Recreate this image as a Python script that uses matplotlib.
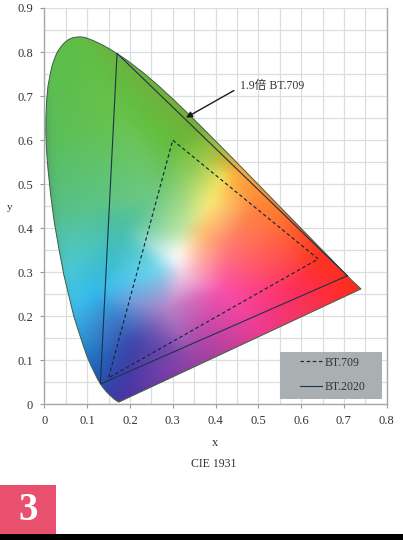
import numpy as np
import matplotlib
matplotlib.use('Agg')
import matplotlib.pyplot as plt
import matplotlib.tri as mtri
from matplotlib.patches import Polygon, Rectangle

plt.rcParams['font.family'] = ['Liberation Serif', 'Noto Sans CJK SC', 'DejaVu Sans']

# spectrum locus
locus_x = [.1741, .1644, .1566, .1510, .1440, .1355, .1241, .1096, .1000, .0913, .0800, .0687, .0570, .0454, .0340,
           .0235, .0150, .0082, .0050, .0035, .0039, .0055, .0085, .0139, .0185, .0250, .0310, .0389, .0470, .0560,
           .0650, .0743, .0830, .0940, .1142, .1340, .1547, .1929, .2296, .2658, .3016, .3373, .3731, .4087, .4441,
           .4788, .5125, .5448, .5752, .6029, .6270, .6658, .6915, .7079, .7190, .7290, .7400]
locus_y = [.0050, .0109, .0177, .0227, .0297, .0399, .0578, .0868, .1080, .1327, .1660, .2007, .2480, .2950, .3540,
           .4127, .4750, .5384, .5800, .6200, .6548, .6900, .7220, .7502, .7700, .7880, .8010, .8120, .8210, .8280,
           .8320, .8338, .8345, .8335, .8262, .8170, .8059, .7816, .7543, .7243, .6923, .6589, .6245, .5896, .5547,
           .5202, .4866, .4544, .4242, .3965, .3725, .3340, .3083, .2920, .2809, .2720, .2620]
bt709_x = [.64, .30, .15]
bt709_y = [.33, .60, .06]
bt2020_x = [.708, .170, .131]
bt2020_y = [.292, .797, .046]

# colours read at points inside the horseshoe
col_x = [0, .8, 0, .8, .08, .01, .30, .18, .26, .02, .10, .184, .05, .07, .122, .207, .12, .14, .18, .34, .496, .59,
         .74, .68, .636, .55, .496, .426, .387, .309, .364, .434, .418, .263, .324, .324, .371, .287, .254, .45, .37,
         .33]
col_y = [0, 0, .9, .9, .82, .60, .585, .65, .47, .45, .45, .396, .30, .22, .253, .14, .08, .04, .005, .107, .168, .26,
         .26, .27, .32, .43, .449, .525, .457, .332, .32, .358, .26, .305, .396, .29, .389, .214, .169, .52, .56, .50]
col_rgb = [(60, 60, 170), (255, 40, 30), (95, 190, 70), (255, 60, 30), (95, 190, 70), (90, 190, 90), (100, 190, 60),
           (105, 195, 75), (110, 200, 130), (85, 190, 130), (90, 195, 135), (70, 190, 170), (75, 200, 215),
           (60, 190, 235), (50, 185, 235), (60, 70, 170), (30, 100, 185), (45, 75, 170), (70, 50, 165),
           (150, 70, 170), (235, 60, 150), (255, 45, 90), (250, 45, 30), (255, 45, 45), (255, 50, 35), (255, 120, 45),
           (255, 130, 60), (240, 225, 85), (250, 235, 120), (255, 255, 255), (255, 170, 170), (255, 120, 110),
           (250, 80, 170), (110, 215, 240), (190, 230, 160), (240, 200, 225), (255, 190, 110), (180, 130, 200),
           (110, 90, 180), (255, 170, 60), (150, 200, 70), (150, 210, 110)]

fig = plt.figure(figsize=(4.03, 5.40), dpi=100)
ax = fig.add_axes([44.3 / 403, 1 - 404.3 / 540, 342.4 / 403, 396.3 / 540])

# gradient fill: linear between the colour samples, then a soft blur
gx, gy = np.meshgrid(np.linspace(0, .8, 400), np.linspace(0, .9, 450))
tri = mtri.Triangulation(col_x, col_y)
rgb = np.array(col_rgb, dtype=float) / 255
img = np.stack([mtri.LinearTriInterpolator(tri, rgb[:, i])(gx, gy).filled(1) for i in range(3)], axis=-1)
kern = np.exp(-.5 * (np.arange(-15, 16) / 5) ** 2)
kern = kern / kern.sum()
pad = np.pad(img, ((15, 15), (15, 15), (0, 0)), mode='edge')
pad = np.apply_along_axis(lambda v: np.convolve(v, kern, mode='same'), 0, pad)
pad = np.apply_along_axis(lambda v: np.convolve(v, kern, mode='same'), 1, pad)
img = np.clip(pad[15:-15, 15:-15], 0, 1)

im = ax.imshow(img, origin='lower', extent=(0, .8, 0, .9), aspect='auto', zorder=2, interpolation='bilinear')
shape = Polygon(np.column_stack([locus_x, locus_y]), closed=True, fc='none', ec='#3d5f45', lw=0.7, zorder=3,
                transform=ax.transData)
ax.add_patch(shape)
im.set_clip_path(shape)

ax.plot(bt709_x + bt709_x[:1], bt709_y + bt709_y[:1], color='#14283a', lw=0.85, ls=(0, (3, 2.2)), zorder=4, label='BT.709')
ax.plot(bt2020_x + bt2020_x[:1], bt2020_y + bt2020_y[:1], color='#1c3448', lw=0.8, zorder=4, label='BT.2020')

ax.set_xlim(0, .8)
ax.set_ylim(0, .9)
ax.set_xticks(np.arange(0, .81, .1))
ax.set_yticks(np.arange(0, .91, .1))
ax.set_xticks(np.arange(0, .81, .05), minor=True)
ax.set_yticks(np.arange(0, .91, .05), minor=True)
ax.set_xticklabels(['0', '0.1', '0.2', '0.3', '0.4', '0.5', '0.6', '0.7', '0.8'])
ax.set_yticklabels(['0', '0.1', '0.2', '0.3', '0.4', '0.5', '0.6', '0.7', '0.8', '0.9'])
ax.grid(which='both', color='#dcdfe0', lw=0.9, zorder=0)
ax.set_axisbelow(True)
ax.tick_params(which='major', length=3, width=0.8, color='#999999', labelsize=9, labelcolor='#333333', pad=5)
ax.tick_params(which='minor', length=0)
ax.spines['top'].set_visible(False)
for s in ['left', 'right', 'bottom']:
    ax.spines[s].set_color('#a8a8a8')
    ax.spines[s].set_linewidth(1.0)

ax.annotate('1.9倍 BT.709', xy=(.331, .651), xytext=(.458, .7235), fontsize=8.5, color='#333333', va='center',
            arrowprops=dict(arrowstyle='-|>', color='#1c1c1c', lw=1.0, shrinkA=3, shrinkB=0, mutation_scale=9,
                            relpos=(0, .4)),
            zorder=6)

# legend box
ax.add_artist(Rectangle((280 / 403, 1 - 399 / 540), 102 / 403, 47 / 540, transform=fig.transFigure, fc='#aab0b2',
                        ec='none', zorder=7))
leg = ax.legend(loc='center left', bbox_to_anchor=(300 / 403, 1 - 375 / 540), bbox_transform=fig.transFigure,
                frameon=False, fontsize=8.5, labelspacing=1.1, borderpad=0, handlelength=1.9, handletextpad=0.2,
                borderaxespad=0, labelcolor='#333333')
leg.set_zorder(8)

ax.set_xlabel('x', fontsize=9, color='#333333', labelpad=7)
fig.text(10 / 403, 1 - 208 / 540, 'y', fontsize=8, color='#333333', ha='center', va='center')
fig.text(214 / 403, 1 - 464 / 540, 'CIE 1931', fontsize=8.5, color='#333333', ha='center', va='center')

fig.add_artist(Rectangle((0, 1 - 534 / 540), 56 / 403, 49 / 540, transform=fig.transFigure, fc='#e9506e', ec='none'))
fig.add_artist(Rectangle((0, 0), 1, 6 / 540, transform=fig.transFigure, fc='black', ec='none'))
fig.text(28 / 403, 1 - 510 / 540, '3', fontsize=28, fontweight='bold', color='white', ha='center', va='center')

fig.savefig('out.png', dpi=100)
